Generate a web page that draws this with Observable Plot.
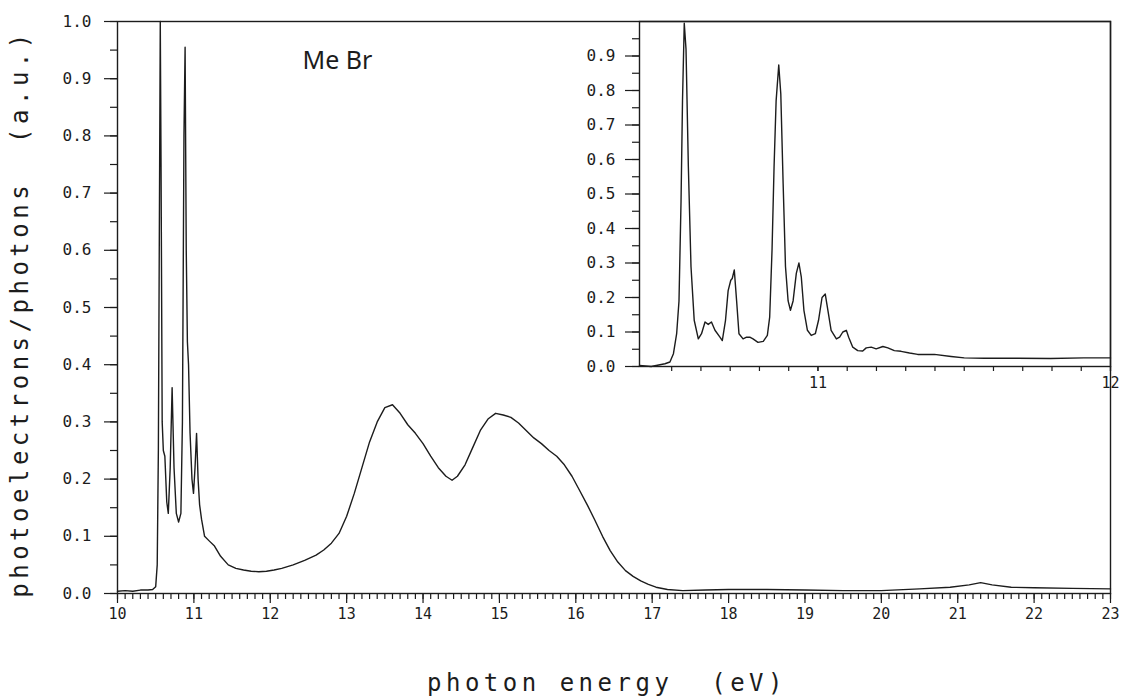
<!DOCTYPE html>
<html><head><meta charset="utf-8">
<script src="https://cdn.jsdelivr.net/npm/d3@7"></script>
<script src="https://cdn.jsdelivr.net/npm/@observablehq/plot@0.6"></script>
<style>
body{margin:0;background:#fff;overflow:hidden}
#wrap{position:relative;width:1123px;height:698px}
#wrap svg{position:absolute;left:0;top:0}
</style></head><body><div id="wrap"></div>
<script>
// ---- main spectrum (photon energy in eV, signal in a.u.) ----
const mainEnergy = [10.00,10.10,10.20,10.30,10.40,10.46,10.50,10.52,10.535,10.55,10.56,10.57,10.585,10.60,10.62,10.645,10.665,10.69,10.715,10.74,10.77,10.80,10.83,10.85,10.87,10.885,10.90,10.915,10.93,10.95,10.975,10.995,11.015,11.035,11.055,11.075,11.10,11.14,11.20,11.27,11.35,11.45,11.55,11.65,11.75,11.85,11.95,12.05,12.15,12.30,12.45,12.60,12.70,12.80,12.90,13.00,13.10,13.20,13.30,13.40,13.50,13.60,13.70,13.80,13.90,14.00,14.10,14.20,14.30,14.38,14.45,14.55,14.65,14.75,14.85,14.95,15.05,15.15,15.25,15.35,15.45,15.55,15.65,15.75,15.85,15.95,16.05,16.15,16.25,16.35,16.45,16.55,16.65,16.75,16.85,16.95,17.05,17.20,17.40,17.70,18.00,18.50,19.00,19.50,20.00,20.50,20.90,21.15,21.30,21.45,21.70,22.00,22.50,23.00];
const mainSignal = [0.004,0.005,0.004,0.006,0.006,0.007,0.012,0.05,0.25,0.70,1.00,0.75,0.30,0.25,0.24,0.16,0.14,0.22,0.36,0.22,0.14,0.125,0.14,0.30,0.80,0.955,0.60,0.44,0.40,0.28,0.20,0.175,0.22,0.28,0.20,0.155,0.13,0.10,0.092,0.083,0.065,0.05,0.044,0.041,0.039,0.038,0.039,0.041,0.044,0.05,0.058,0.067,0.076,0.088,0.105,0.135,0.175,0.22,0.265,0.30,0.325,0.33,0.315,0.295,0.28,0.262,0.24,0.22,0.205,0.198,0.205,0.225,0.255,0.285,0.305,0.315,0.312,0.308,0.298,0.285,0.272,0.262,0.25,0.24,0.225,0.205,0.18,0.155,0.128,0.10,0.075,0.055,0.04,0.03,0.022,0.016,0.011,0.007,0.005,0.006,0.007,0.007,0.006,0.005,0.005,0.008,0.011,0.015,0.019,0.015,0.011,0.010,0.009,0.008];

// ---- inset: high-resolution scan 10.4 - 12 eV ----
const insetEnergy = [10.39,10.43,10.477,10.494,10.506,10.517,10.525,10.532,10.537,10.543,10.549,10.557,10.566,10.577,10.591,10.602,10.614,10.625,10.636,10.648,10.665,10.673,10.684,10.693,10.702,10.707,10.714,10.722,10.73,10.744,10.756,10.767,10.778,10.795,10.813,10.827,10.835,10.843,10.85,10.857,10.866,10.873,10.881,10.889,10.898,10.906,10.915,10.926,10.935,10.943,10.952,10.964,10.977,10.991,11.002,11.014,11.025,11.034,11.045,11.063,11.074,11.085,11.097,11.105,11.119,11.136,11.153,11.165,11.182,11.199,11.222,11.239,11.261,11.284,11.313,11.341,11.398,11.455,11.5,11.568,11.682,11.795,11.909,12.0];
const insetSignal = [0.003,0.0,0.008,0.013,0.037,0.095,0.19,0.48,0.77,0.995,0.92,0.58,0.29,0.134,0.08,0.095,0.129,0.122,0.129,0.105,0.085,0.075,0.134,0.22,0.25,0.255,0.28,0.19,0.095,0.08,0.085,0.085,0.08,0.07,0.073,0.09,0.143,0.337,0.58,0.77,0.874,0.79,0.53,0.29,0.19,0.163,0.19,0.27,0.30,0.26,0.163,0.105,0.09,0.095,0.134,0.20,0.21,0.163,0.105,0.08,0.085,0.10,0.105,0.085,0.056,0.046,0.045,0.054,0.056,0.051,0.058,0.054,0.046,0.044,0.039,0.035,0.035,0.029,0.025,0.024,0.024,0.023,0.025,0.025];

// ---- tick labels ----
const mainXTicks = [10,11,12,13,14,15,16,17,18,19,20,21,22,23];
const mainYTicks = [0,0.1,0.2,0.3,0.4,0.5,0.6,0.7,0.8,0.9,1.0];
const insetXTicks = [11,12];
const insetYTicks = [0,0.1,0.2,0.3,0.4,0.5,0.6,0.7,0.8,0.9];

// ---- texts ----
const xTitle = "photon energy  (eV)";
const yTitle = "photoelectrons/photons  (a.u.)";
const sampleLabel = "Me Br";

const ink = "#1c1c1c";
const mono = "'DejaVu Sans Mono', monospace";

const mainData = mainEnergy.map((e, i) => ({e, v: mainSignal[i]}));
const insetData = insetEnergy.map((e, i) => ({e, v: insetSignal[i]}));
const blank = () => "";
const fmt = d3.format(".1f");

const mainMinorX = d3.range(100, 231).map(d => d / 10);
const mainMinorY = d3.range(0, 21).map(d => d / 20);
const insetMinorX = d3.range(105, 121).map(d => d / 10);
const insetMinorY = d3.range(0, 20).map(d => d / 20);

const main = Plot.plot({
  width: 1123, height: 698,
  marginLeft: 117, marginRight: 13, marginTop: 21, marginBottom: 105,
  x: {domain: [10, 23], label: null, axis: null},
  y: {domain: [0, 1], label: null, axis: null},
  style: {fontFamily: mono, color: ink, background: "white", overflow: "visible"},
  marks: [
    Plot.axisX({ticks: mainMinorX, tickSize: 6, tickFormat: blank, label: null, stroke: ink, strokeWidth: 1.2}),
    Plot.axisX({ticks: mainXTicks, tickSize: 10, tickPadding: 5, tickFormat: d => String(d), fontSize: 15, label: null, stroke: ink, strokeWidth: 1.2}),
    Plot.axisY({ticks: mainMinorY, tickSize: 7, tickFormat: blank, label: null, stroke: ink, strokeWidth: 1.2}),
    Plot.axisY({ticks: mainYTicks, tickSize: 13, tickPadding: 13, tickFormat: fmt, fontSize: 16, label: null, stroke: ink, strokeWidth: 1.2}),
    Plot.frame({stroke: ink, strokeWidth: 1.4}),
    Plot.line(mainData, {x: "e", y: "v", stroke: ink, strokeWidth: 1.4}),
    Plot.text([sampleLabel], {frameAnchor: "top-left", dx: 185, dy: 30, textAnchor: "start", lineAnchor: "top", fontSize: 25, fontFamily: "'Noto Sans', sans-serif", fill: ink}),
    Plot.text([xTitle], {frameAnchor: "bottom", textAnchor: "middle", dx: -7, dy: 97, fontSize: 24, fontFamily: mono, fill: ink}),
    Plot.text([yTitle], {frameAnchor: "left", textAnchor: "middle", rotate: -90, dx: -97, dy: 6, fontSize: 24, fontFamily: mono, fill: ink})
  ]
});

const inset = Plot.plot({
  width: 1123, height: 420,
  marginLeft: 639, marginRight: 13, marginTop: 21, marginBottom: 54,
  x: {domain: [10.39, 12], label: null, axis: null},
  y: {domain: [0, 1], label: null, axis: null},
  style: {fontFamily: mono, color: ink, background: "transparent", overflow: "visible"},
  marks: [
    Plot.axisX({ticks: insetMinorX, tickSize: 5, tickFormat: blank, label: null, stroke: ink, strokeWidth: 1.2}),
    Plot.axisX({ticks: insetXTicks, tickSize: 5, tickPadding: 6, tickFormat: d => String(d), fontSize: 15, label: null, stroke: ink, strokeWidth: 1.2}),
    Plot.axisY({ticks: insetMinorY, tickSize: 7, tickFormat: blank, label: null, stroke: ink, strokeWidth: 1.2}),
    Plot.axisY({ticks: insetYTicks, tickSize: 14, tickPadding: 10, tickFormat: fmt, fontSize: 16, label: null, stroke: ink, strokeWidth: 1.2}),
    Plot.frame({stroke: ink, strokeWidth: 1.4}),
    Plot.line(insetData, {x: "e", y: "v", stroke: ink, strokeWidth: 1.4})
  ]
});

const wrap = document.getElementById("wrap");
wrap.appendChild(main);
wrap.appendChild(inset);
d3.select(main).selectAll("text")
  .filter(function () { return this.textContent === xTitle || this.textContent === yTitle; })
  .style("letter-spacing", "4.5px").style("white-space", "pre");
</script></body></html>
